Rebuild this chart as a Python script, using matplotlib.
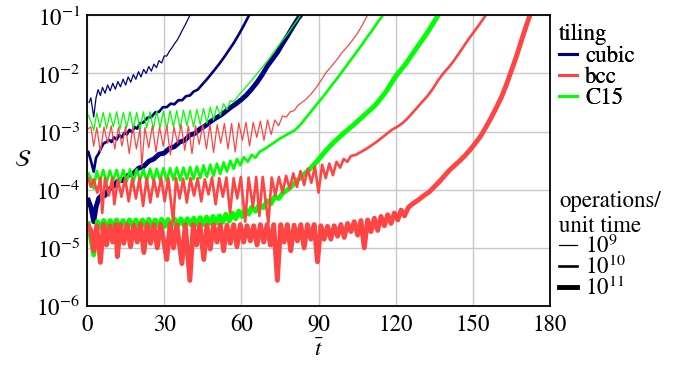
import numpy as np
import matplotlib
matplotlib.use("Agg")
import matplotlib.pyplot as plt
from matplotlib.lines import Line2D
from matplotlib.ticker import LogLocator, LogFormatterSciNotation, NullLocator

COLOR_CUBIC = "#000080"
COLOR_BCC = "#ff4444"
COLOR_C15 = "#00ff00"
LW = {"1e9": 0.9, "1e10": 1.9, "1e11": 3.5}

# values: time t-bar and log10(S)
CUBIC_1E9_T = [0.8, 1.5, 2.6, 3.5, 4.3, 5.2, 6, 7, 8, 9, 10, 11, 12, 13, 14, 15, 16, 17, 18, 19,
               20, 21, 22, 23, 24, 25, 26, 27, 28, 29, 30, 31, 32, 33, 34, 35, 36, 37, 38, 39, 40]
CUBIC_1E9_LOGS = [-2.50, -2.42, -2.75, -2.42, -2.28, -2.38, -2.24, -2.34, -2.20, -2.30, -2.17,
                  -2.27, -2.14, -2.23, -2.10, -2.20, -2.06, -2.15, -2.02, -2.10, -1.97, -2.06,
                  -1.93, -2.00, -1.88, -1.96, -1.84, -1.90, -1.78, -1.82, -1.70, -1.70, -1.62,
                  -1.56, -1.49, -1.43, -1.35, -1.26, -1.18, -1.09, -1.0]

CUBIC_1E10_T = [0.5, 1.5, 2.6, 3.5, 4.5, 5.5, 6.5, 7.5, 8.5, 9.5, 10.5, 11.5, 12.5, 13.5, 14.5,
                15.5, 16.5, 17.5, 18.5, 19.5, 20.5, 22, 23.5, 25, 26.5, 28, 29.5, 31, 32.5, 34,
                35.5, 37, 38.5, 40, 41.5, 43, 45, 47, 49, 51, 53, 55, 57, 59, 61, 63]
CUBIC_1E10_LOGS = [-3.35, -3.50, -3.69, -3.45, -3.38, -3.28, -3.20, -3.18, -3.14, -3.18, -3.10,
                   -3.14, -3.06, -3.10, -3.02, -3.05, -2.97, -3.01, -2.92, -2.95, -2.86, -2.84,
                   -2.76, -2.75, -2.67, -2.66, -2.58, -2.58, -2.52, -2.53, -2.46, -2.46, -2.39,
                   -2.38, -2.31, -2.28, -2.18, -2.08, -1.97, -1.86, -1.74, -1.61, -1.48, -1.33,
                   -1.17, -1.0]

CUBIC_1E11_T = [0.5, 1.5, 2.6, 3.5, 4.5, 6, 7, 8.3, 10, 12, 14, 16, 18, 20, 22, 24, 26, 28, 30,
                32, 34, 36, 38, 40, 42, 44, 46, 48, 50, 52, 54, 56, 58, 60, 62, 64, 66, 68, 70,
                72, 74, 76, 78, 80, 82, 83]
CUBIC_1E11_LOGS = [-4.18, -4.30, -4.55, -4.30, -4.15, -4.08, -4.10, -4.00, -3.95, -3.85, -3.84,
                   -3.75, -3.72, -3.63, -3.60, -3.51, -3.47, -3.39, -3.37, -3.29, -3.26, -3.18,
                   -3.15, -3.06, -3.03, -2.95, -2.90, -2.83, -2.77, -2.72, -2.65, -2.58, -2.52,
                   -2.45, -2.37, -2.27, -2.16, -2.03, -1.88, -1.76, -1.64, -1.49, -1.35, -1.20,
                   -1.06, -1.0]

C15_1E9_T = [0.5, 1.5, 2.6, 3.8, 5.0, 6.3, 7.6, 8.9, 10.2, 11.5, 12.8, 14.1, 15.4, 16.7, 18.0,
             19.3, 20.6, 21.9, 23.2, 24.5, 25.8, 27.1, 28.4, 29.7, 31.0, 32.3, 33.6, 34.9, 36.2,
             37.5, 38.8, 40.1, 41.4, 42.7, 44.0, 45.3, 46.6, 47.9, 49.2, 50.5, 51.8, 53.1, 54.4,
             55.7, 57, 58.5, 60, 62, 64, 66, 68, 70, 72, 74, 76, 78, 80, 82, 83]
C15_1E9_LOGS = [-2.72, -2.82, -2.98, -2.68, -2.93, -2.67, -2.95, -2.68, -2.92, -2.66, -2.96,
                -2.67, -2.93, -2.66, -2.95, -2.67, -2.97, -2.66, -2.94, -2.66, -2.96, -2.65,
                -2.93, -2.65, -2.96, -2.64, -2.92, -2.64, -2.95, -2.63, -2.90, -2.63, -2.92,
                -2.62, -2.88, -2.60, -2.86, -2.58, -2.80, -2.56, -2.72, -2.52, -2.62, -2.47,
                -2.49, -2.40, -2.32, -2.22, -2.12, -2.01, -1.90, -1.79, -1.67, -1.55, -1.43,
                -1.32, -1.19, -1.07, -1.0]

C15_1E10_T = [0.5, 1.5, 2.6, 3.8, 5.0, 6.3, 7.6, 8.9, 10.2, 11.5, 12.8, 14.1, 15.4, 16.7, 18,
              19.3, 20.6, 21.9, 23.2, 24.5, 25.8, 27.1, 28.4, 29.7, 31, 32.3, 33.6, 34.9, 36.2,
              37.5, 38.8, 40.1, 41.4, 42.7, 44, 45.3, 46.6, 47.9, 49.2, 50.5, 51.8, 53.1, 54.4,
              55.7, 57, 58.3, 59.6, 61, 62.5, 64, 65.5, 67, 69, 71, 73, 75, 77, 79, 81, 83, 85,
              87, 89, 91, 93, 95, 97, 99, 101, 103, 105, 107, 109, 111, 113, 115]
C15_1E10_LOGS = [-3.72, -3.80, -3.98, -3.68, -3.86, -3.66, -3.88, -3.67, -3.85, -3.66, -3.87,
                 -3.66, -3.86, -3.65, -3.87, -3.65, -3.84, -3.65, -3.86, -3.64, -3.85, -3.64,
                 -3.84, -3.63, -3.85, -3.63, -3.83, -3.62, -3.84, -3.62, -3.82, -3.61, -3.82,
                 -3.60, -3.80, -3.58, -3.78, -3.57, -3.76, -3.55, -3.73, -3.53, -3.69, -3.50,
                 -3.64, -3.47, -3.58, -3.44, -3.52, -3.40, -3.45, -3.35, -3.30, -3.24, -3.18,
                 -3.12, -3.07, -3.02, -2.97, -2.88, -2.77, -2.66, -2.55, -2.44, -2.33, -2.21,
                 -2.10, -1.98, -1.86, -1.74, -1.62, -1.50, -1.37, -1.25, -1.12, -1.0]

C15_1E11_T = [0.5, 2.6, 4.0, 5.3, 6.5, 7.8, 9.0, 10.3, 11.5, 12.8, 14, 15.3, 16.5, 17.8, 19,
              20.3, 21.5, 22.8, 24, 25.3, 26.5, 27.8, 29, 30.3, 31.5, 32.8, 34, 35.3, 36.5,
              37.8, 39, 40.3, 41.5, 42.8, 44, 45.3, 46.5, 47.8, 49, 50.3, 51.5, 52.8, 54, 55.3,
              56.5, 57.8, 59, 60.3, 61.5, 62.8, 64, 65.5, 67, 68.5, 70, 71.5, 73, 74.5, 76, 78,
              80, 82, 84, 86, 88, 90, 93, 96, 100, 104, 108, 112, 116, 120, 124, 128, 132, 136.5]
C15_1E11_LOGS = [-4.58, -5.12, -4.55, -4.66, -4.53, -4.65, -4.53, -4.64, -4.52, -4.65, -4.53,
                 -4.64, -4.52, -4.64, -4.52, -4.65, -4.52, -4.63, -4.51, -4.64, -4.52, -4.63,
                 -4.51, -4.63, -4.51, -4.62, -4.50, -4.62, -4.50, -4.62, -4.50, -4.60, -4.49,
                 -4.60, -4.48, -4.60, -4.47, -4.58, -4.46, -4.57, -4.45, -4.56, -4.42, -4.54,
                 -4.40, -4.50, -4.37, -4.46, -4.33, -4.42, -4.30, -4.37, -4.25, -4.31, -4.19,
                 -4.24, -4.12, -4.15, -4.06, -4.00, -3.92, -3.83, -3.75, -3.67, -3.58, -3.48,
                 -3.32, -3.18, -3.02, -2.87, -2.71, -2.55, -2.33, -2.05, -1.83, -1.57, -1.32, -1.0]

BCC_1E9_T = [0.5, 1.5, 2.6, 3.8, 5.2, 6.6, 8, 9.4, 10.8, 12.2, 13.6, 15, 16.4, 17.8, 19.2, 20.6,
             21.3, 22.5, 24, 25.4, 26.8, 28.2, 29.6, 31, 32.4, 33.8, 35.2, 36.6, 38, 39.4, 40.8,
             42.2, 43.6, 45, 46.4, 47.8, 49.2, 50.6, 52, 53.4, 54.8, 56.2, 57.6, 59, 60.4, 61.8,
             63.2, 64.6, 66, 67.4, 68.8, 70.2, 71.6, 73, 74.5, 76, 77.5, 79, 80.5, 82, 83.5, 85,
             87, 89, 91, 93, 95, 97, 99, 101, 103, 105, 107, 109]
BCC_1E9_LOGS = [-2.95, -2.92, -3.25, -2.93, -3.35, -2.92, -3.20, -2.90, -3.30, -2.93, -3.25,
                -2.91, -3.38, -2.92, -3.30, -2.95, -3.60, -2.93, -3.28, -2.90, -3.35, -2.92,
                -3.25, -2.90, -3.40, -2.92, -3.20, -2.88, -3.32, -2.90, -3.38, -2.90, -3.22,
                -2.88, -3.30, -2.88, -3.36, -2.88, -3.20, -2.86, -3.30, -2.86, -3.35, -2.85,
                -3.15, -2.84, -3.25, -2.84, -3.10, -2.82, -3.15, -2.80, -3.05, -2.80, -2.90,
                -2.73, -2.75, -2.66, -2.64, -2.55, -2.50, -2.45, -2.36, -2.25, -2.12, -1.98,
                -1.88, -1.77, -1.65, -1.55, -1.44, -1.32, -1.17, -1.0]

BCC_1E10_T = [0.5, 1.5, 2.6, 4, 5.2, 5.9, 7, 8.5, 9.8, 10.6, 12, 13.4, 14.8, 16.2, 17.6, 19,
              20.4, 21.8, 23.2, 24.6, 26, 27.4, 28.8, 30.2, 31.6, 33.5, 34.6, 36, 37.4, 38.8,
              40.2, 41.6, 43, 44.4, 45.8, 47.2, 48.6, 50, 51.4, 52.8, 54.2, 55.6, 57, 58.4, 59.8,
              61.5, 62.8, 64.5, 65.8, 67, 68.3, 70.5, 71.8, 73.2, 74.6, 76, 77.4, 78.8, 80.2,
              81.6, 83, 84.4, 85.8, 87.2, 88.6, 90, 91.4, 92.8, 94.2, 95.6, 97, 98.4, 99.8,
              101.2, 102.6, 104.5, 106.5, 108.5, 110.5, 112.5, 114.5, 116.5, 118.5, 120.5,
              122.5, 124.5, 126.5, 128.5, 130.5, 132.5, 134.5, 136.5, 138.5, 140.5, 142.5,
              144.5, 146.5, 148.5, 150.5, 152.5, 155]
BCC_1E10_LOGS = [-3.80, -3.95, -3.82, -4.05, -3.80, -4.40, -3.80, -4.10, -3.80, -4.25, -3.82,
                 -4.12, -3.80, -4.20, -3.81, -4.15, -3.80, -4.28, -3.80, -4.22, -3.82, -4.12,
                 -3.80, -4.20, -3.80, -4.55, -3.80, -4.15, -3.81, -4.22, -3.80, -4.10, -3.80,
                 -4.20, -3.82, -4.08, -3.79, -4.25, -3.80, -4.12, -3.79, -4.40, -3.80, -4.15,
                 -3.78, -4.55, -3.79, -4.30, -3.78, -4.45, -3.78, -4.58, -3.79, -4.10, -3.78,
                 -4.05, -3.76, -3.98, -3.72, -3.95, -3.68, -3.92, -3.64, -3.88, -3.60, -4.05,
                 -3.57, -3.80, -3.55, -3.75, -3.52, -3.62, -3.47, -3.52, -3.42, -3.40, -3.35,
                 -3.30, -3.24, -3.18, -3.11, -3.04, -2.97, -2.92, -2.86, -2.78, -2.68, -2.58,
                 -2.48, -2.38, -2.26, -2.12, -2.00, -1.90, -1.79, -1.66, -1.53, -1.40, -1.28,
                 -1.16, -1.0]

BCC_1E11_T = [0.5, 1.5, 2.6, 3.8, 5.2, 6.4, 7.6, 8.8, 10.0, 11.2, 11.8, 13.0, 14.3, 15.6, 16.9,
              18.2, 19.5, 20.8, 22.1, 23.4, 24.7, 26.0, 27.3, 28.6, 29.9, 31.0, 32.3, 33.6, 34.9,
              36.9, 38.2, 40.0, 41.3, 42.6, 43.9, 45.4, 46.6, 47.9, 49.2, 50.5, 51.8, 53.1, 54.4,
              55.7, 57.0, 58.3, 59.6, 60.9, 62.2, 63.5, 64.8, 66.1, 67.4, 68.7, 70.0, 71.3, 72.6,
              74.0, 75.3, 76.6, 77.9, 79.2, 80.5, 81.8, 83.1, 84.4, 85.7, 87.0, 88.3, 89.6, 90.9,
              92.2, 93.5, 94.8, 96.1, 97.4, 98.7, 100.0, 101.3, 102.6, 103.9, 105.2, 106.5,
              107.8, 109.1, 110.4, 111.7, 113.0, 114.3, 115.6, 116.9, 118.2, 119.5, 120.8, 122.1,
              123.4, 125, 127, 129, 131, 133, 135, 137, 139, 141, 143, 145, 147, 149, 151, 153,
              155, 157, 159, 161, 163, 165, 167, 169, 171, 172.2]
BCC_1E11_LOGS = [-4.62, -4.70, -5.05, -4.62, -5.25, -4.60, -4.95, -4.62, -4.90, -4.60, -5.15,
                 -4.60, -4.92, -4.60, -4.98, -4.61, -4.90, -4.59, -5.08, -4.60, -4.92, -4.60,
                 -5.00, -4.60, -4.90, -5.20, -4.58, -5.00, -4.60, -5.27, -4.60, -5.56, -4.60,
                 -4.95, -4.60, -5.20, -4.61, -5.02, -4.60, -4.90, -4.60, -5.05, -4.61, -4.92,
                 -4.60, -4.98, -4.60, -4.90, -4.62, -4.88, -4.62, -4.95, -4.60, -4.90, -4.60,
                 -4.95, -4.60, -5.56, -4.60, -4.90, -4.60, -5.05, -4.61, -4.88, -4.60, -5.00,
                 -4.60, -4.85, -4.60, -5.24, -4.62, -4.85, -4.63, -4.85, -4.62, -4.80, -4.60,
                 -4.82, -4.58, -4.72, -4.55, -4.78, -4.53, -5.00, -4.52, -4.72, -4.49, -4.70,
                 -4.46, -4.62, -4.43, -4.58, -4.40, -4.52, -4.35, -4.45, -4.30, -4.23, -4.17,
                 -4.10, -4.04, -3.95, -3.86, -3.76, -3.66, -3.58, -3.50, -3.41, -3.31, -3.20,
                 -3.08, -2.93, -2.77, -2.60, -2.42, -2.20, -1.95, -1.70, -1.42, -1.15, -1.0]

TILINGS = ["cubic", "bcc", "C15"]
RATE_LABELS = ["$10^9$", "$10^{10}$", "$10^{11}$"]


def main():
    plt.rcParams.update({
        "font.family": ["STIXGeneral", "DejaVu Serif"],
        "mathtext.fontset": "stix",
        "font.size": 16.5,
        "axes.unicode_minus": False,
    })

    fig = plt.figure(figsize=(6.94, 3.65), dpi=100)
    ax = fig.add_axes([0.1254, 0.1616, 0.6671, 0.7965])

    curves = [
        (CUBIC_1E9_T, CUBIC_1E9_LOGS, COLOR_CUBIC, LW["1e9"]),
        (CUBIC_1E10_T, CUBIC_1E10_LOGS, COLOR_CUBIC, LW["1e10"]),
        (CUBIC_1E11_T, CUBIC_1E11_LOGS, COLOR_CUBIC, LW["1e11"]),
        (C15_1E9_T, C15_1E9_LOGS, COLOR_C15, LW["1e9"]),
        (C15_1E10_T, C15_1E10_LOGS, COLOR_C15, LW["1e10"]),
        (C15_1E11_T, C15_1E11_LOGS, COLOR_C15, LW["1e11"]),
        (BCC_1E9_T, BCC_1E9_LOGS, COLOR_BCC, LW["1e9"]),
        (BCC_1E10_T, BCC_1E10_LOGS, COLOR_BCC, LW["1e10"]),
        (BCC_1E11_T, BCC_1E11_LOGS, COLOR_BCC, LW["1e11"]),
    ]
    for t, logs, color, lw in curves:
        ax.plot(t, 10.0 ** np.array(logs), color=color, linewidth=lw,
                solid_joinstyle="round")

    ax.set_yscale("log")
    ax.set_xlim(0, 180)
    ax.set_ylim(1e-6, 1e-1)
    ax.set_xticks([0, 30, 60, 90, 120, 150, 180])
    ax.yaxis.set_major_locator(LogLocator(base=10, numticks=10))
    ax.yaxis.set_major_formatter(LogFormatterSciNotation())
    ax.yaxis.set_minor_locator(NullLocator())
    ax.tick_params(length=0, pad=5)
    ax.tick_params(axis="x", pad=6)
    ax.grid(True, color="#c8c8c8", linewidth=1.0)
    ax.set_axisbelow(True)
    for sp in ax.spines.values():
        sp.set_linewidth(1.3)

    ax.set_xlabel(r"$\bar{t}$", labelpad=3)
    ax.set_ylabel(r"$\mathcal{S}$", rotation=0, labelpad=10, va="center")

    tiling_handles = [Line2D([], [], color=c, linewidth=2.2)
                      for c in (COLOR_CUBIC, COLOR_BCC, COLOR_C15)]
    leg1 = fig.legend(tiling_handles, TILINGS, title="tiling", loc="upper left",
                      bbox_to_anchor=(559 / 694, 1 - 24 / 365), frameon=False,
                      borderpad=0, borderaxespad=0, labelspacing=0.0,
                      handlelength=0.8, handletextpad=0.35, alignment="left",
                      fontsize=16.5, title_fontsize=16.5)

    rate_handles = [Line2D([], [], color="black", linewidth=LW[k])
                    for k in ("1e9", "1e10", "1e11")]
    fig.legend(rate_handles, RATE_LABELS, title="operations/\nunit time", loc="upper left",
               bbox_to_anchor=(559 / 694, 1 - 191 / 365), frameon=False,
               borderpad=0, borderaxespad=0, labelspacing=-0.1,
               handlelength=0.8, handletextpad=0.35, alignment="left",
               fontsize=16.5, title_fontsize=16.5)
    fig.add_artist(leg1)

    fig.savefig("out.png", dpi=100, facecolor="white")
    plt.close(fig)


if __name__ == "__main__":
    main()
